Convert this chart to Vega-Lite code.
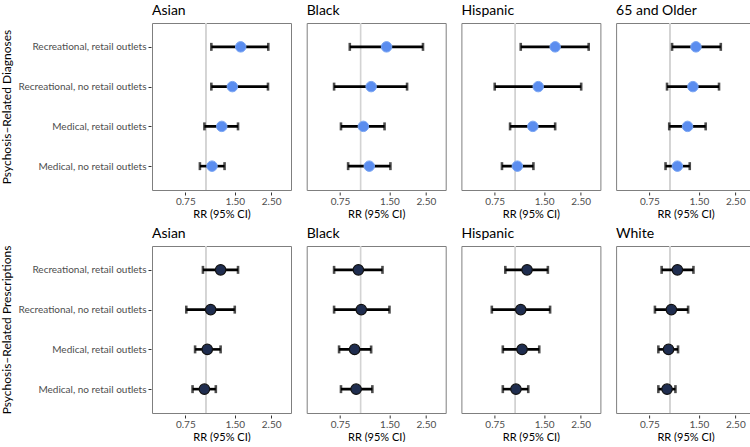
{
  "$schema": "https://vega.github.io/schema/vega-lite/v6.json",
  "padding": {"left": 0, "top": 4, "right": 0, "bottom": 0},
  "background": "white",
  "spacing": 8,
  "config": {
    "font": "Lato",
    "view": {"stroke": "#7f7f7f", "strokeWidth": 1},
    "axis": {"grid": false, "domain": false, "labelFont": "Lato", "titleFont": "Lato", "labelColor": "#4d4d4d", "tickColor": "#333333", "tickSize": 3, "labelFontSize": 10, "titleFontSize": 11, "titleFontWeight": "normal", "titleColor": "black"},
    "header": {"labelFont": "Lato", "labelFontSize": 14, "labelAnchor": "start", "labelColor": "black", "labelPadding": 3}
  },
  "datasets": {
    "d": [
      {"outcome": "Diagnoses", "group": "Asian", "cat": "Recreational, retail outlets", "rr": 1.63, "low": 1.08, "high": 2.40},
      {"outcome": "Diagnoses", "group": "Asian", "cat": "Recreational, no retail outlets", "rr": 1.45, "low": 1.08, "high": 2.39},
      {"outcome": "Diagnoses", "group": "Asian", "cat": "Medical, retail outlets", "rr": 1.25, "low": 0.98, "high": 1.57},
      {"outcome": "Diagnoses", "group": "Asian", "cat": "Medical, no retail outlets", "rr": 1.09, "low": 0.92, "high": 1.30},
      {"outcome": "Diagnoses", "group": "Black", "cat": "Recreational, retail outlets", "rr": 1.44, "low": 0.86, "high": 2.40},
      {"outcome": "Diagnoses", "group": "Black", "cat": "Recreational, no retail outlets", "rr": 1.16, "low": 0.69, "high": 1.92},
      {"outcome": "Diagnoses", "group": "Black", "cat": "Medical, retail outlets", "rr": 1.04, "low": 0.76, "high": 1.40},
      {"outcome": "Diagnoses", "group": "Black", "cat": "Medical, no retail outlets", "rr": 1.13, "low": 0.84, "high": 1.52},
      {"outcome": "Diagnoses", "group": "Hispanic", "cat": "Recreational, retail outlets", "rr": 1.75, "low": 1.08, "high": 2.80},
      {"outcome": "Diagnoses", "group": "Hispanic", "cat": "Recreational, no retail outlets", "rr": 1.38, "low": 0.75, "high": 2.52},
      {"outcome": "Diagnoses", "group": "Hispanic", "cat": "Medical, retail outlets", "rr": 1.28, "low": 0.93, "high": 1.75},
      {"outcome": "Diagnoses", "group": "Hispanic", "cat": "Medical, no retail outlets", "rr": 1.03, "low": 0.83, "high": 1.29},
      {"outcome": "Diagnoses", "group": "65 and Older", "cat": "Recreational, retail outlets", "rr": 1.44, "low": 1.03, "high": 2.04},
      {"outcome": "Diagnoses", "group": "65 and Older", "cat": "Recreational, no retail outlets", "rr": 1.38, "low": 0.96, "high": 1.99},
      {"outcome": "Diagnoses", "group": "65 and Older", "cat": "Medical, retail outlets", "rr": 1.28, "low": 0.99, "high": 1.65},
      {"outcome": "Diagnoses", "group": "65 and Older", "cat": "Medical, no retail outlets", "rr": 1.11, "low": 0.94, "high": 1.32},
      {"outcome": "Prescriptions", "group": "Asian", "cat": "Recreational, retail outlets", "rr": 1.23, "low": 0.96, "high": 1.57},
      {"outcome": "Prescriptions", "group": "Asian", "cat": "Recreational, no retail outlets", "rr": 1.07, "low": 0.76, "high": 1.50},
      {"outcome": "Prescriptions", "group": "Asian", "cat": "Medical, retail outlets", "rr": 1.02, "low": 0.86, "high": 1.23},
      {"outcome": "Prescriptions", "group": "Asian", "cat": "Medical, no retail outlets", "rr": 0.98, "low": 0.83, "high": 1.15},
      {"outcome": "Prescriptions", "group": "Black", "cat": "Recreational, retail outlets", "rr": 0.97, "low": 0.69, "high": 1.36},
      {"outcome": "Prescriptions", "group": "Black", "cat": "Recreational, no retail outlets", "rr": 1.01, "low": 0.69, "high": 1.50},
      {"outcome": "Prescriptions", "group": "Black", "cat": "Medical, retail outlets", "rr": 0.92, "low": 0.74, "high": 1.16},
      {"outcome": "Prescriptions", "group": "Black", "cat": "Medical, no retail outlets", "rr": 0.94, "low": 0.76, "high": 1.18},
      {"outcome": "Prescriptions", "group": "Hispanic", "cat": "Recreational, retail outlets", "rr": 1.18, "low": 0.87, "high": 1.58},
      {"outcome": "Prescriptions", "group": "Hispanic", "cat": "Recreational, no retail outlets", "rr": 1.08, "low": 0.72, "high": 1.63},
      {"outcome": "Prescriptions", "group": "Hispanic", "cat": "Medical, retail outlets", "rr": 1.10, "low": 0.84, "high": 1.40},
      {"outcome": "Prescriptions", "group": "Hispanic", "cat": "Medical, no retail outlets", "rr": 1.01, "low": 0.84, "high": 1.20},
      {"outcome": "Prescriptions", "group": "White", "cat": "Recreational, retail outlets", "rr": 1.11, "low": 0.89, "high": 1.39},
      {"outcome": "Prescriptions", "group": "White", "cat": "Recreational, no retail outlets", "rr": 1.02, "low": 0.81, "high": 1.29},
      {"outcome": "Prescriptions", "group": "White", "cat": "Medical, retail outlets", "rr": 0.98, "low": 0.85, "high": 1.12},
      {"outcome": "Prescriptions", "group": "White", "cat": "Medical, no retail outlets", "rr": 0.96, "low": 0.85, "high": 1.08}
    ]
  },
  "vconcat": [
    {
      "data": {"name": "d"},
      "transform": [{"filter": "datum.outcome == 'Diagnoses'"}],
      "facet": {"column": {"field": "group", "type": "nominal", "sort": ["Asian", "Black", "Hispanic", "65 and Older"], "header": {"title": null}}},
      "spacing": 13.7,
      "spec": {
        "width": 139,
        "height": 167,
        "layer": [
          {"mark": {"type": "rule", "color": "#d3d3d3", "strokeWidth": 1.2}, "encoding": {"x": {"datum": 1, "type": "quantitative"}}},
          {
            "mark": {"type": "errorbar", "ticks": {"size": 8, "thickness": 2.6, "color": "black"}, "rule": {"strokeWidth": 2.6, "color": "black"}},
            "encoding": {
              "x": {"field": "low", "type": "quantitative", "scale": {"type": "log", "domain": [0.47, 3.3], "nice": false, "zero": false}, "axis": {"values": [0.75, 1.5, 2.5], "format": ".2f", "title": "RR (95% CI)", "titlePadding": 2, "labelPadding": 1}},
              "x2": {"field": "high"},
              "y": {"field": "cat", "type": "nominal", "sort": ["Recreational, retail outlets", "Recreational, no retail outlets", "Medical, retail outlets", "Medical, no retail outlets"], "scale": {"type": "point", "padding": 0.6}, "axis": {"title": "Psychosis–Related Diagnoses", "titleFontSize": 12, "titlePadding": 5, "labelPadding": 2}}
            }
          },
          {
            "mark": {"type": "circle", "size": 110, "fill": "#5b8def", "stroke": "#79a5f4", "strokeWidth": 1, "opacity": 1},
            "encoding": {
              "x": {"field": "rr", "type": "quantitative"},
              "y": {"field": "cat", "type": "nominal", "sort": ["Recreational, retail outlets", "Recreational, no retail outlets", "Medical, retail outlets", "Medical, no retail outlets"]}
            }
          }
        ]
      }
    },
    {
      "data": {"name": "d"},
      "transform": [{"filter": "datum.outcome == 'Prescriptions'"}],
      "facet": {"column": {"field": "group", "type": "nominal", "sort": ["Asian", "Black", "Hispanic", "White"], "header": {"title": null}}},
      "spacing": 13.7,
      "spec": {
        "width": 139,
        "height": 167,
        "layer": [
          {"mark": {"type": "rule", "color": "#d3d3d3", "strokeWidth": 1.2}, "encoding": {"x": {"datum": 1, "type": "quantitative"}}},
          {
            "mark": {"type": "errorbar", "ticks": {"size": 8, "thickness": 2.6, "color": "black"}, "rule": {"strokeWidth": 2.6, "color": "black"}},
            "encoding": {
              "x": {"field": "low", "type": "quantitative", "scale": {"type": "log", "domain": [0.47, 3.3], "nice": false, "zero": false}, "axis": {"values": [0.75, 1.5, 2.5], "format": ".2f", "title": "RR (95% CI)", "titlePadding": 2, "labelPadding": 1}},
              "x2": {"field": "high"},
              "y": {"field": "cat", "type": "nominal", "sort": ["Recreational, retail outlets", "Recreational, no retail outlets", "Medical, retail outlets", "Medical, no retail outlets"], "scale": {"type": "point", "padding": 0.6}, "axis": {"title": "Psychosis–Related Prescriptions", "titleFontSize": 12, "titlePadding": 5, "labelPadding": 2}}
            }
          },
          {
            "mark": {"type": "circle", "size": 110, "fill": "#1f2d4f", "stroke": "#111111", "strokeWidth": 1.2, "opacity": 1},
            "encoding": {
              "x": {"field": "rr", "type": "quantitative"},
              "y": {"field": "cat", "type": "nominal", "sort": ["Recreational, retail outlets", "Recreational, no retail outlets", "Medical, retail outlets", "Medical, no retail outlets"]}
            }
          }
        ]
      }
    }
  ]
}
